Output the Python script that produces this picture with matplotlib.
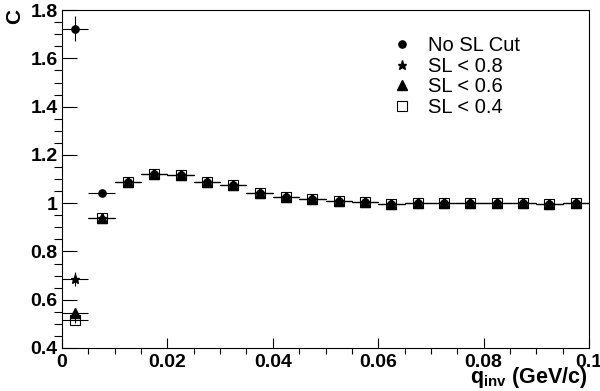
import numpy as np
import matplotlib.pyplot as plt
from matplotlib.lines import Line2D
from matplotlib.ticker import MultipleLocator, FormatStrFormatter

plt.rcParams['font.family'] = ['Liberation Sans', 'DejaVu Sans']
plt.rcParams['mathtext.fontset'] = 'custom'
plt.rcParams['mathtext.rm'] = 'Liberation Sans'
plt.rcParams['mathtext.bf'] = 'Liberation Sans:bold'

# bin centres (GeV/c), bin width 0.005
qinv = [0.0025, 0.0075, 0.0125, 0.0175, 0.0225, 0.0275, 0.0325, 0.0375, 0.0425, 0.0475,
        0.0525, 0.0575, 0.0625, 0.0675, 0.0725, 0.0775, 0.0825, 0.0875, 0.0925, 0.0975]
tail = [1.087, 1.121, 1.117, 1.087, 1.074, 1.044, 1.027, 1.016, 1.009, 1.004,
        0.998, 0.999, 0.999, 0.999, 0.999, 1.002, 0.996, 1.000]
c_nocut = [1.724, 1.043] + tail
c_sl08 = [0.685, 0.940] + tail
c_sl06 = [0.544, 0.937] + tail
c_sl04 = [0.518, 0.937] + tail
err_nocut = [0.05, 0.006] + [0.004] * 18
err_sl08 = [0.03, 0.008] + [0.004] * 18
err_sl06 = [0.015, 0.008] + [0.004] * 18
err_sl04 = [0.015, 0.008] + [0.004] * 18
labels = ['No SL Cut', 'SL < 0.8', 'SL < 0.6', 'SL < 0.4']

fig = plt.figure(figsize=(6, 3.91), dpi=100)
ax = fig.add_axes([0.1033, 0.110, 0.8784, 0.864])

styles = [dict(marker='o', ms=5.2, mfc='k', mec='k'),
          dict(marker='*', ms=6.5, mfc='k', mec='k'),
          dict(marker='^', ms=6.5, mfc='k', mec='k'),
          dict(marker='s', ms=7.0, mfc='none', mec='k', mew=0.8)]
series = [(c_nocut, err_nocut), (c_sl08, err_sl08), (c_sl06, err_sl06), (c_sl04, err_sl04)]
handles = []
for (vals, errs), st, lab in zip(series, styles, labels):
    ax.errorbar(qinv, vals, xerr=0.0025, yerr=errs, fmt='none', ecolor='k',
                elinewidth=0.8, capsize=0)
    ax.plot(qinv, vals, ls='none', **st)
    handles.append(Line2D([], [], ls='none', label=lab, **st))

ax.set_xlim(0, 0.1)
ax.set_ylim(0.4, 1.8)
ax.xaxis.set_major_locator(MultipleLocator(0.02))
ax.xaxis.set_minor_locator(MultipleLocator(0.005))
ax.yaxis.set_major_locator(MultipleLocator(0.2))
ax.yaxis.set_minor_locator(MultipleLocator(0.05))
ax.xaxis.set_major_formatter(FormatStrFormatter('%g'))
ax.yaxis.set_major_formatter(FormatStrFormatter('%g'))
ax.tick_params(direction='in', labelsize=14, width=0.8)
ax.tick_params(axis='x', which='major', length=7, pad=4)
ax.tick_params(axis='x', which='minor', length=4, width=0.8)
ax.tick_params(axis='y', which='major', length=11, pad=3)
ax.tick_params(axis='y', which='minor', length=6, width=0.8)
for lab in ax.get_xticklabels() + ax.get_yticklabels():
    lab.set_fontweight('bold')
for sp in ax.spines.values():
    sp.set_linewidth(0.8)

ax.legend(handles=handles, loc='upper left', bbox_to_anchor=(0.595, 0.965),
          frameon=False, fontsize=14.5, handlelength=1.2, handletextpad=0.7,
          labelspacing=0.08, borderpad=0.2)

fig.text(0.008, 0.978, 'C', rotation=90, ha='left', va='top',
         fontsize=15, fontweight='bold')
fig.text(0.98, 0.02, r'$\mathbf{q}_{\mathbf{inv}}$ (GeV/c)', ha='right', va='baseline',
         fontsize=15.5, fontweight='bold')

fig.savefig('out.png', dpi=100)
